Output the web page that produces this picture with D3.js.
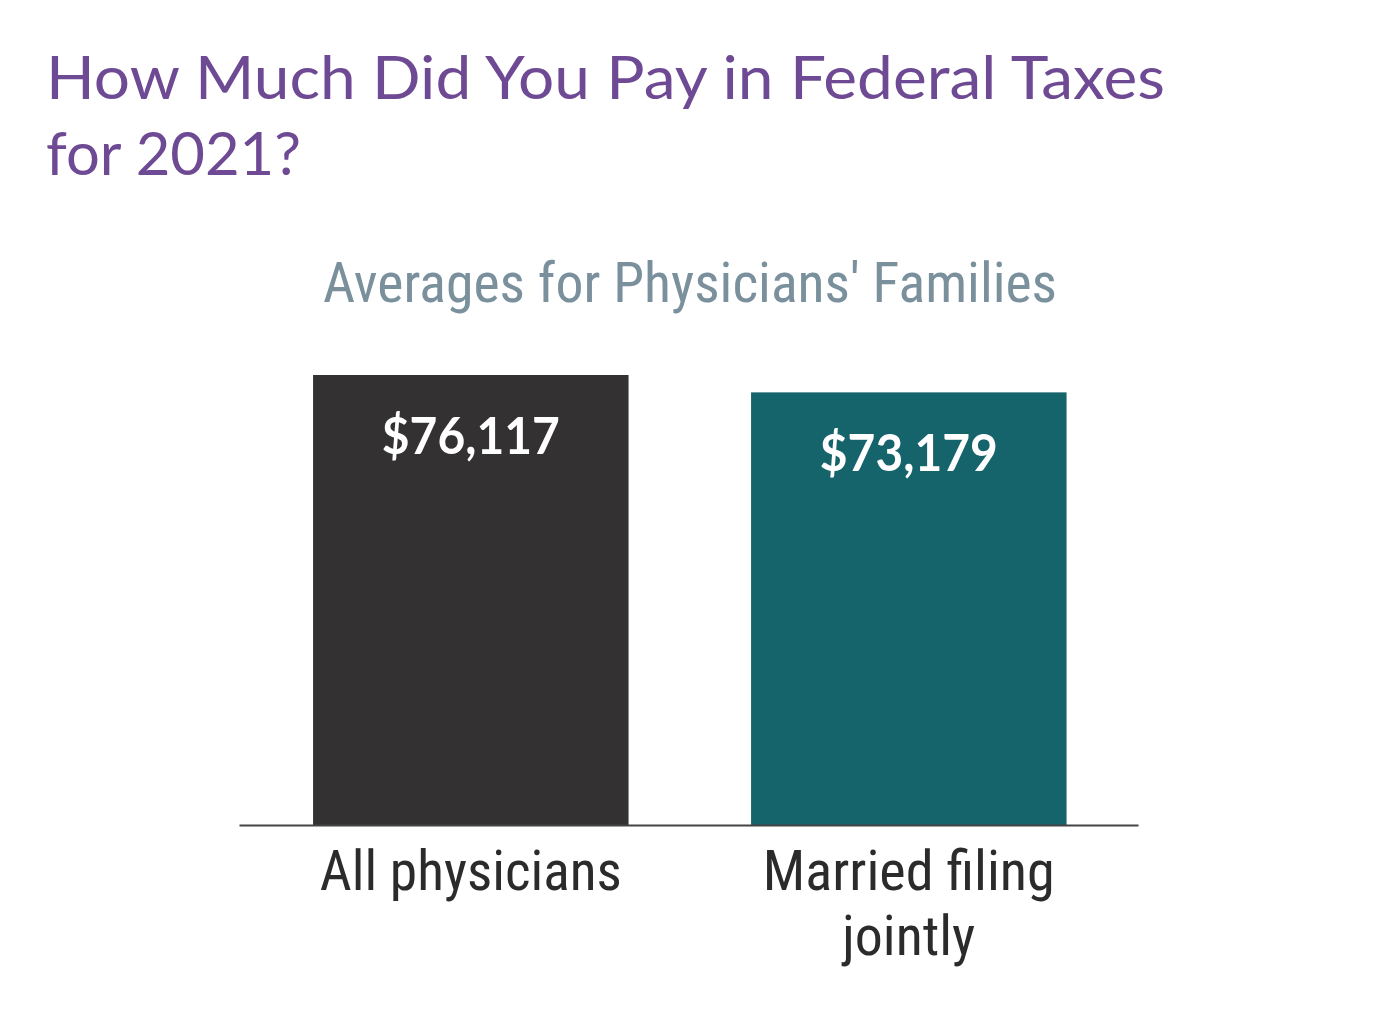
<!DOCTYPE html>
<html>
<head>
<meta charset="utf-8">
<script src="https://cdn.jsdelivr.net/npm/d3@7/dist/d3.min.js"></script>
<style>
  body { margin: 0; background: #fff; }
</style>
</head>
<body>
<div id="chart"></div>
<script>
const categories = ["All physicians", "Married filing jointly"];
const categoryLines = [["All physicians"], ["Married filing", "jointly"]];
const values = [76117, 73179];
const barColors = ["#333132", "#15636b"];
const titleLines = ["How Much Did You Pay in Federal Taxes", "for 2021?"];
const subtitle = "Averages for Physicians' Families";

const W = 1380, H = 1027;
const baseline = 825;

var svg = d3.select("#chart")
    .append("svg")
    .attr("width", W)
    .attr("height", H);

// title, two lines
svg.selectAll(".title")
    .data(titleLines)
    .enter().append("text")
    .attr("class", "title")
    .attr("x", 46)
    .attr("y", (d, i) => 99 + i * 76)
    .attr("textLength", (d, i) => i == 0 ? 1119 : 255)
    .attr("lengthAdjust", "spacingAndGlyphs")
    .style("font-family", "Lato, 'Open Sans', sans-serif")
    .style("font-size", "60px")
    .style("fill", "#6f4a94")
    .text(d => d);

svg.append("text")
    .attr("x", 690)
    .attr("y", 302)
    .attr("text-anchor", "middle")
    .attr("textLength", 734)
    .attr("lengthAdjust", "spacingAndGlyphs")
    .style("font-family", "'Roboto Condensed', Roboto, sans-serif")
    .style("font-size", "56px")
    .style("fill", "#7a909c")
    .text(subtitle);

var x = d3.scaleBand()
    .domain(categories)
    .range([239, 1138])
    .paddingInner(0.2797)
    .paddingOuter(0.1661)
    .align(0.509);

var y = d3.scaleLinear()
    .domain([0, d3.max(values)])
    .range([baseline, 375]);

var data = categories.map((c, i) => ({ cat: c, value: values[i], color: barColors[i], lines: categoryLines[i] }));

svg.selectAll(".bar")
    .data(data)
    .enter().append("rect")
    .attr("class", "bar")
    .attr("x", d => x(d.cat))
    .attr("y", d => y(d.value))
    .attr("width", x.bandwidth())
    .attr("height", d => baseline - y(d.value))
    .style("fill", d => d.color);

svg.selectAll(".value")
    .data(data)
    .enter().append("text")
    .attr("class", "value")
    .attr("x", d => x(d.cat) + x.bandwidth() / 2)
    .attr("y", d => y(d.value) + 79)
    .attr("text-anchor", "middle")
    .attr("textLength", 178)
    .attr("lengthAdjust", "spacingAndGlyphs")
    .style("font-family", "Lato, 'Open Sans', sans-serif")
    .style("font-weight", "bold")
    .style("font-size", "51px")
    .style("fill", "#fff")
    .text(d => "$" + d3.format(",")(d.value));

// axis: just the domain line, labels drawn below
var axis = svg.append("g")
    .attr("transform", `translate(0,${baseline})`)
    .call(d3.axisBottom(x).tickSize(0).tickSizeOuter(0).tickFormat(""));
axis.select(".domain")
    .attr("stroke", "#444")
    .attr("stroke-width", 2);

var labelWidths = [[302], [292, 133]];
svg.selectAll(".cat")
    .data(data)
    .enter().append("g")
    .attr("class", "cat")
    .each(function (d, i) {
        d3.select(this).selectAll("text")
            .data(d.lines)
            .enter().append("text")
            .attr("x", x(d.cat) + x.bandwidth() / 2)
            .attr("y", (t, j) => 890 + j * 65)
            .attr("text-anchor", "middle")
            .attr("textLength", (t, j) => labelWidths[i][j])
            .attr("lengthAdjust", "spacingAndGlyphs")
            .style("font-family", "'Roboto Condensed', Roboto, sans-serif")
            .style("font-size", "55px")
            .style("fill", "#2b2b2b")
            .text(t => t);
    });
</script>
</body>
</html>
